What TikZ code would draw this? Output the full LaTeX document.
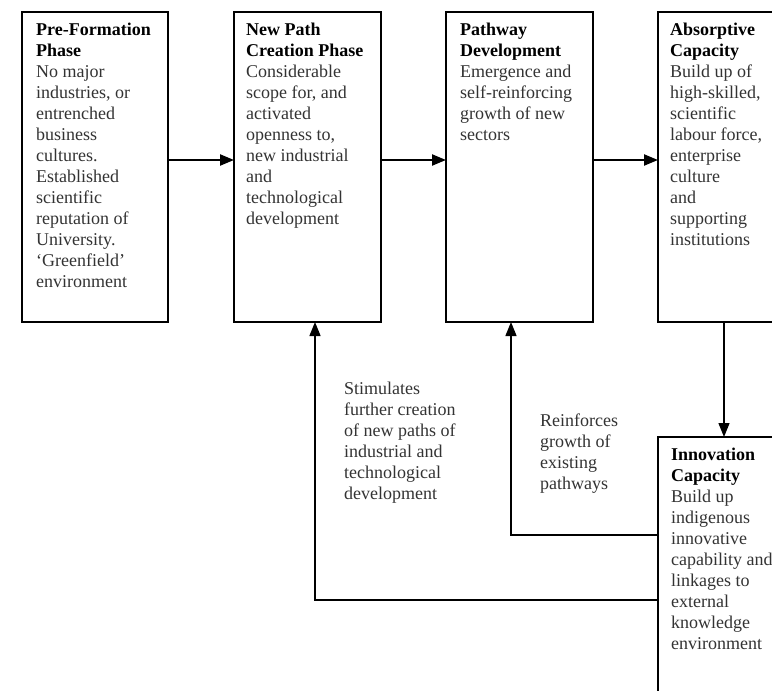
\documentclass[tikz,border=0pt]{standalone}
\usepackage{fontspec}
\setmainfont{Liberation Serif}
\usetikzlibrary{arrows.meta}
\begin{document}
\begin{tikzpicture}[x=1pt, y=-1pt,
    box/.style={draw, line width=2.2pt, anchor=north west, minimum height=310pt, inner sep=0pt, outer sep=0pt},
    txt/.style={anchor=north west, align=left, inner sep=0pt, text=black!80, font=\fontsize{18}{21}\selectfont},
    flow/.style={line width=2.2pt, -{Triangle[length=14pt, width=11pt]}},
    back/.style={line width=1.4pt, -{Triangle[length=14pt, width=11pt]}}]
    \useasboundingbox (0,0) rectangle (772,691);
    \clip (0,0) rectangle (772,691);
    % Top row of phases
    \node[box, minimum width=146pt] (pre) at (22,12) {};
    \node[box, minimum width=147pt] (newpath) at (234,12) {};
    \node[box, minimum width=147pt] (pathway) at (446,12) {};
    \node[box, minimum width=132pt] (absorp) at (658,12) {};
    \node[txt] (pretext) at (36,20.3) {\strut\textbf{\color{black}Pre-Formation}\\ \textbf{\color{black}Phase}\\ No major\\ industries, or\\ entrenched\\ business\\ cultures.\\ Established\\ scientific\\ reputation of\\ University.\\ `Greenfield'\\ environment};
    \node[txt] (newtext) at (246,20.3) {\strut\textbf{\color{black}New Path}\\ \textbf{\color{black}Creation Phase}\\ Considerable\\ scope for, and\\ activated\\ openness to,\\ new industrial\\ and\\ technological\\ development};
    \node[txt] (pathtext) at (460,20.3) {\strut\textbf{\color{black}Pathway}\\ \textbf{\color{black}Development}\\ Emergence and\\ self-reinforcing\\ growth of new\\ sectors};
    \node[txt] (abstext) at (670,20.3) {\strut\textbf{\color{black}Absorptive}\\ \textbf{\color{black}Capacity}\\ Build up of\\ high-skilled,\\ scientific\\ labour force,\\ enterprise\\ culture\\ and\\ supporting\\ institutions};
    % Innovation box below
    \node[box, minimum width=132pt] (innov) at (658,437) {};
    \node[txt] (innovtext) at (671,445.3) {\strut\textbf{\color{black}Innovation}\\ \textbf{\color{black}Capacity}\\ Build up\\ indigenous\\ innovative\\ capability and\\ linkages to\\ external\\ knowledge\\ environment};
    % Forward arrows
    \draw[flow] ([yshift=7pt]pre.east) -- ([yshift=7pt]newpath.west);
    \draw[flow] ([yshift=7pt]newpath.east) -- ([yshift=7pt]pathway.west);
    \draw[flow] ([yshift=7pt]pathway.east) -- ([yshift=7pt]absorp.west);
    \draw[back] (absorp.south) -- (innov.north);
    % Feedback loops
    \coordinate (stimbend) at (315,600);
    \coordinate (reinbend) at (511,535);
    \draw[back] (innov.west |- reinbend) -| (pathway.south -| reinbend);
    \draw[back] (innov.west |- stimbend) -| (newpath.south -| stimbend);
    \node[txt] (stimtext) at (344,379.3) {\strut Stimulates\\ further creation\\ of new paths of\\ industrial and\\ technological\\ development};
    \node[txt] (reintext) at (540,411.3) {\strut Reinforces\\ growth of\\ existing\\ pathways};
\end{tikzpicture}
\end{document}
